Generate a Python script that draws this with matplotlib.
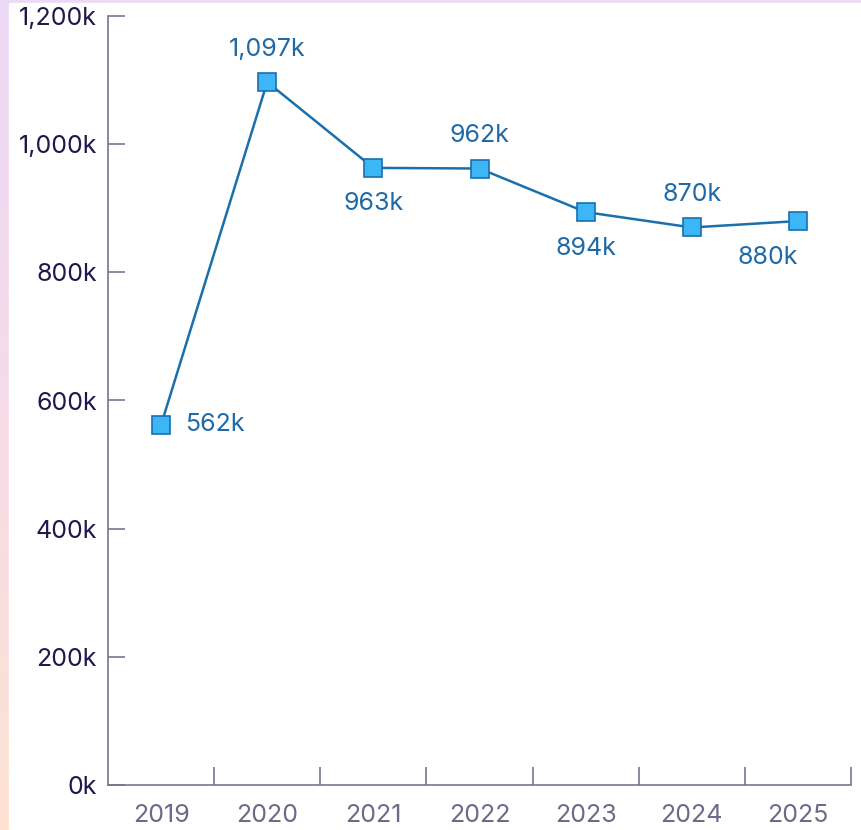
import numpy as np
import matplotlib
matplotlib.use("Agg")
import matplotlib.pyplot as plt
from matplotlib.colors import LinearSegmentedColormap
from matplotlib.patches import Rectangle

years = ["2019", "2020", "2021", "2022", "2023", "2024", "2025"]
values = [562, 1097, 963, 962, 894, 870, 880]
label_pos = ["right", "above", "below", "above", "below", "above", "below"]
y_ticks = [0, 200, 400, 600, 800, 1000, 1200]

plt.rcParams['font.family'] = ['Inter', 'DejaVu Sans']

fig = plt.figure(figsize=(8.61, 8.30), dpi=100)

# soft gradient frame behind the white card
bg = fig.add_axes([0, 0, 1, 1], zorder=-2)
cmap = LinearSegmentedColormap.from_list("frame", ["#ecd9f6", "#f6dbe8", "#fde2d2"])
bg.imshow(np.linspace(0, 1, 256).reshape(-1, 1), aspect="auto", cmap=cmap, extent=[0, 1, 0, 1])
bg.add_patch(Rectangle((9 / 861, 0), 1, (830 - 3) / 830, transform=bg.transAxes, color="white"))
bg.axis("off")

ax = fig.add_axes([108 / 861, 45 / 830, 743 / 861, 769 / 830])
ax.patch.set_alpha(0)

x = np.arange(len(years))
line_col = "#1b6fab"
ax.plot(x, values, color=line_col, lw=1.8, marker="s", markersize=13,
        markerfacecolor="#3cb6f6", markeredgecolor="#1b6fab", markeredgewidth=1.2, zorder=3)

for i, (xi, v, pos) in enumerate(zip(x, values, label_pos)):
    if pos == "right":
        off, ha = (24, 0), "left"
    elif pos == "above":
        off, ha = (0, 33), "center"
    else:
        off, ha = (0, -36), "center"
    if i == len(values) - 1:
        off = (off[0] - 30, off[1])  # last label nudged in from the edge
    ax.annotate(f"{v:,}k", (xi, v), xytext=off, textcoords="offset pixels",
                ha=ha, va="center", fontsize=18, color="#1f6aa6")

ax.set_xlim(-0.5, len(years) - 0.5)
ax.set_ylim(0, 1200)

axis_col = "#77758e"
for s in ["top", "right"]:
    ax.spines[s].set_visible(False)
for s in ["left", "bottom"]:
    ax.spines[s].set_color(axis_col)
    ax.spines[s].set_linewidth(1.2)

ax.set_yticks(y_ticks)
ax.set_yticklabels([f"{t:,}k" for t in y_ticks])
ax.tick_params(axis="y", direction="in", length=12, width=1.2, color=axis_col,
               labelsize=18, labelcolor="#1c1a4c", pad=8)

ax.set_xticks(x)
ax.set_xticklabels(years)
ax.set_xticks(np.arange(len(years)) + 0.5, minor=True)
ax.tick_params(axis="x", which="major", length=0, labelsize=18, labelcolor="#6b6a88", pad=14)
ax.tick_params(axis="x", which="minor", direction="in", length=13, width=1.2, color=axis_col)

fig.savefig("out.png", dpi=100)
